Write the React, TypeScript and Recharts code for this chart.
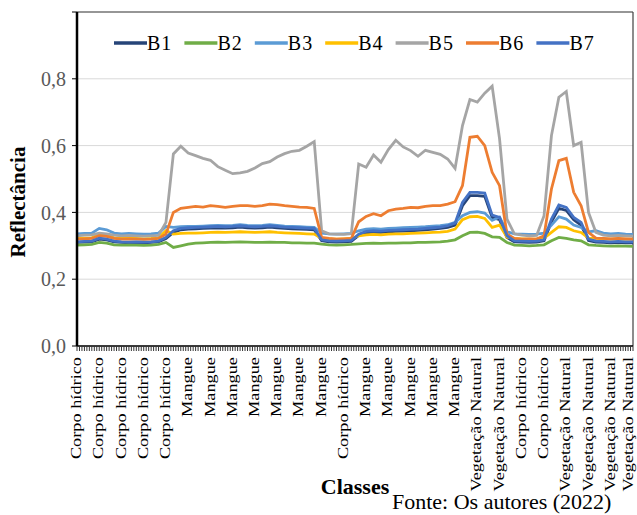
import { LineChart, Line, XAxis, YAxis, CartesianGrid, ReferenceLine } from 'recharts';

const serif = 'Liberation Serif, Times New Roman, serif';

// one label every 9 samples along the profile
const classLabels = [
  'Corpo hídrico', 'Corpo hídrico', 'Corpo hídrico', 'Corpo hídrico', 'Corpo hídrico',
  'Mangue', 'Mangue', 'Mangue', 'Mangue', 'Mangue', 'Mangue', 'Mangue',
  'Corpo hídrico',
  'Mangue', 'Mangue', 'Mangue', 'Mangue', 'Mangue',
  'Vegetação Natural', 'Vegetação Natural',
  'Corpo hídrico', 'Corpo hídrico',
  'Vegetação Natural', 'Vegetação Natural', 'Vegetação Natural', 'Vegetação Natural',
];

// sample number along the transect (every 3rd sample)
const sampleIdx = Array.from({ length: 76 }, (_, k) => k * 3);

const b1 = [
  0.31, 0.311, 0.312, 0.32, 0.318, 0.312, 0.31, 0.309, 0.31, 0.309, 0.31, 0.312,
  0.322, 0.34, 0.348, 0.35, 0.351, 0.352, 0.353, 0.354, 0.353, 0.354, 0.356, 0.354, 0.353, 0.354, 0.356, 0.354, 0.352, 0.351, 0.35, 0.349, 0.348,
  0.315, 0.312, 0.311, 0.312, 0.313,
  0.331, 0.339, 0.341, 0.34, 0.342, 0.343, 0.344, 0.345, 0.346, 0.348, 0.35, 0.352, 0.355, 0.362,
  0.42, 0.45, 0.45, 0.448, 0.385, 0.378, 0.325, 0.312,
  0.311, 0.31, 0.311,
  0.315, 0.372, 0.412, 0.406, 0.378, 0.362, 0.316, 0.311,
  0.31, 0.309, 0.31, 0.309, 0.309,
];
const b2 = [
  0.302, 0.303, 0.304, 0.31, 0.308, 0.303, 0.302, 0.303, 0.302, 0.301, 0.302, 0.304,
  0.31, 0.295, 0.3, 0.305, 0.308, 0.309, 0.31, 0.311, 0.31, 0.311, 0.312, 0.311, 0.31, 0.31, 0.311, 0.31, 0.31, 0.309, 0.309, 0.308, 0.308,
  0.305, 0.303, 0.302, 0.303, 0.304,
  0.306, 0.307, 0.308, 0.307, 0.308, 0.308, 0.309, 0.309, 0.31, 0.31, 0.311, 0.312, 0.314, 0.318,
  0.33, 0.34, 0.341, 0.337, 0.327, 0.325, 0.31, 0.302,
  0.301, 0.3, 0.301,
  0.303, 0.315, 0.325, 0.322, 0.318, 0.315, 0.303, 0.301,
  0.3, 0.299, 0.3, 0.299, 0.298,
];
const b3 = [
  0.336, 0.337, 0.338, 0.352, 0.348, 0.338, 0.336, 0.337, 0.336, 0.335, 0.336, 0.338,
  0.358, 0.355, 0.357, 0.358, 0.358, 0.359, 0.36, 0.361, 0.36, 0.361, 0.363, 0.361, 0.36, 0.361, 0.363, 0.361, 0.359, 0.358, 0.357, 0.356, 0.355,
  0.338, 0.336, 0.335, 0.336, 0.337,
  0.345, 0.35, 0.351, 0.35, 0.352, 0.353, 0.354, 0.355, 0.356, 0.357, 0.359, 0.36, 0.363, 0.37,
  0.39, 0.4, 0.402, 0.398, 0.376, 0.386, 0.342, 0.336,
  0.335, 0.334, 0.335,
  0.338, 0.362, 0.387, 0.38, 0.362, 0.355, 0.342, 0.345,
  0.338, 0.336, 0.337, 0.335, 0.334,
];
const b4 = [
  0.322, 0.323, 0.324, 0.335, 0.332, 0.324, 0.322, 0.323, 0.322, 0.321, 0.322, 0.324,
  0.345, 0.335, 0.337, 0.338, 0.338, 0.339, 0.34, 0.341, 0.34, 0.341, 0.342, 0.341, 0.34, 0.341, 0.342, 0.34, 0.339, 0.338, 0.337, 0.336, 0.335,
  0.322, 0.321, 0.32, 0.321, 0.322,
  0.33, 0.333, 0.334, 0.333, 0.335, 0.336, 0.336, 0.337, 0.338, 0.339, 0.34, 0.341, 0.343, 0.35,
  0.378, 0.387, 0.388, 0.382, 0.355, 0.362, 0.326, 0.322,
  0.321, 0.32, 0.321,
  0.323, 0.34, 0.357, 0.355, 0.345, 0.34, 0.323, 0.322,
  0.321, 0.32, 0.321, 0.32, 0.32,
];
const b5 = [
  0.33, 0.332, 0.333, 0.338, 0.336, 0.332, 0.33, 0.331, 0.33, 0.329, 0.33, 0.331,
  0.37, 0.575, 0.598, 0.578, 0.57, 0.562, 0.556, 0.537, 0.526, 0.516, 0.518, 0.523, 0.533, 0.546, 0.552, 0.566, 0.576, 0.583, 0.586, 0.598, 0.612,
  0.345, 0.336, 0.335, 0.334, 0.336,
  0.545, 0.535, 0.572, 0.55, 0.588, 0.616, 0.596, 0.585, 0.568, 0.586, 0.58, 0.574, 0.56, 0.532,
  0.66, 0.738, 0.73, 0.757, 0.778, 0.62, 0.38, 0.336,
  0.332, 0.33, 0.331,
  0.39, 0.63, 0.745, 0.762, 0.6, 0.61, 0.4, 0.34,
  0.332, 0.33, 0.331, 0.33, 0.329,
];
const b6 = [
  0.32, 0.321, 0.322, 0.33, 0.328, 0.322, 0.32, 0.321, 0.32, 0.319, 0.32, 0.322,
  0.335, 0.4, 0.412, 0.415, 0.418, 0.416, 0.42, 0.418, 0.415, 0.418, 0.42, 0.42, 0.418, 0.42, 0.425, 0.423, 0.42, 0.418, 0.416, 0.415, 0.412,
  0.325, 0.322, 0.32, 0.321, 0.322,
  0.372, 0.388, 0.396, 0.39, 0.405, 0.41, 0.412, 0.415, 0.414, 0.418, 0.42, 0.42, 0.425, 0.432,
  0.48, 0.625, 0.628, 0.6, 0.52, 0.48, 0.335, 0.322,
  0.32, 0.321, 0.32,
  0.33, 0.47, 0.555, 0.562, 0.46, 0.42, 0.34, 0.323,
  0.322, 0.321, 0.322, 0.321, 0.32,
];
const b7 = [
  0.312, 0.313, 0.314, 0.323, 0.32, 0.314, 0.312, 0.311, 0.312, 0.311, 0.312, 0.314,
  0.325, 0.345, 0.352, 0.354, 0.355, 0.356, 0.357, 0.358, 0.357, 0.358, 0.36, 0.358, 0.357, 0.358, 0.36, 0.358, 0.356, 0.355, 0.354, 0.353, 0.352,
  0.318, 0.315, 0.314, 0.315, 0.316,
  0.335, 0.343, 0.345, 0.344, 0.346, 0.347, 0.348, 0.349, 0.35, 0.352, 0.354, 0.356, 0.36, 0.368,
  0.43, 0.46, 0.46, 0.458, 0.392, 0.385, 0.33, 0.315,
  0.314, 0.313, 0.314,
  0.318, 0.38, 0.422, 0.415, 0.385, 0.37, 0.32, 0.314,
  0.313, 0.312, 0.313, 0.312, 0.312,
];

const bands = [
  { key: 'B1', color: '#264478', values: b1 },
  { key: 'B2', color: '#70AD47', values: b2 },
  { key: 'B3', color: '#5B9BD5', values: b3 },
  { key: 'B4', color: '#FFC000', values: b4 },
  { key: 'B5', color: '#A5A5A5', values: b5 },
  { key: 'B6', color: '#ED7D31', values: b6 },
  { key: 'B7', color: '#4472C4', values: b7 },
];

const rows = sampleIdx.map((idx, k) => {
  const r: Record<string, number> = { idx };
  bands.forEach((b) => { r[b.key] = b.values[k]; });
  return r;
});

const lastSample = 225;
const xTicks = Array.from({ length: lastSample + 1 }, (_, i) => i);
const yTicks = [0, 0.2, 0.4, 0.6, 0.8, 1];

function ClassTick(props: any) {
  const { x, y, payload } = props;
  const v = payload.value;
  if (v % 9 !== 0) return <g />;
  // keep the last label inside the picture
  const tx = Math.min(x, 629);
  return (
    <text
      transform={`translate(${tx},${y + 4}) rotate(-90) scale(1.22,1)`}
      textAnchor="end"
      dy="0.27em"
      fontSize={15}
      style={{ fontFamily: serif }}
      fill="#000"
    >
      {classLabels[v / 9]}
    </text>
  );
}

export default function App() {
  return (
    <div style={{ position: 'absolute', left: 0, top: 0, width: 637, height: 515, background: '#fff', fontFamily: serif }}>
      <LineChart width={637} height={515} data={rows} margin={{ top: 12, right: 4, left: 7, bottom: 19 }}>
        <CartesianGrid horizontal vertical={false} stroke="#d9d9d9" />
        <XAxis
          dataKey="idx"
          type="number"
          domain={[0, lastSample]}
          ticks={xTicks}
          interval={0}
          height={150}
          tickSize={5}
          tick={<ClassTick />}
          axisLine={{ stroke: '#000', strokeWidth: 1.5 }}
          tickLine={{ stroke: '#333' }}
        />
        <YAxis
          width={70}
          domain={[0, 1]}
          ticks={yTicks}
          tickSize={5}
          tickMargin={6}
          tickFormatter={(v: number) => (v === 1 ? '' : v.toFixed(1).replace('.', ','))}
          tick={{ fill: '#595959', fontSize: 20, style: { fontFamily: serif } }}
          axisLine={{ stroke: '#000', strokeWidth: 2.5 }}
          tickLine={{ stroke: '#000' }}
        />
        <ReferenceLine y={1} stroke="#404040" strokeWidth={1.2} />
        <ReferenceLine x={lastSample} stroke="#404040" strokeWidth={1.2} />
        {bands.map((b) => (
          <Line
            key={b.key}
            dataKey={b.key}
            stroke={b.color}
            strokeWidth={2.8}
            dot={false}
            type="linear"
            isAnimationActive={false}
          />
        ))}
      </LineChart>
      <svg width={637} height={515} style={{ position: 'absolute', left: 0, top: 0, pointerEvents: 'none', fontFamily: serif }}>
        {bands.map((b, i) => (
          <g key={b.key} transform={`translate(${114 + i * 70.4},43)`}>
            <line x1={0} x2={33} y1={0} y2={0} stroke={b.color} strokeWidth={3.5} />
            <text x={33} y={7} fontSize={20} fill="#000" letterSpacing={1}>{b.key}</text>
          </g>
        ))}
        <text transform="translate(25,202) rotate(-90)" textAnchor="middle" fontSize={21} fontWeight="bold" fill="#000">
          Reflectância
        </text>
        <text x={355} y={494} textAnchor="middle" fontSize={22} fontWeight="bold" fill="#000">
          Classes
        </text>
        <text x={392} y={509} fontSize={22} fill="#000">
          Fonte: Os autores (2022)
        </text>
      </svg>
    </div>
  );
}
